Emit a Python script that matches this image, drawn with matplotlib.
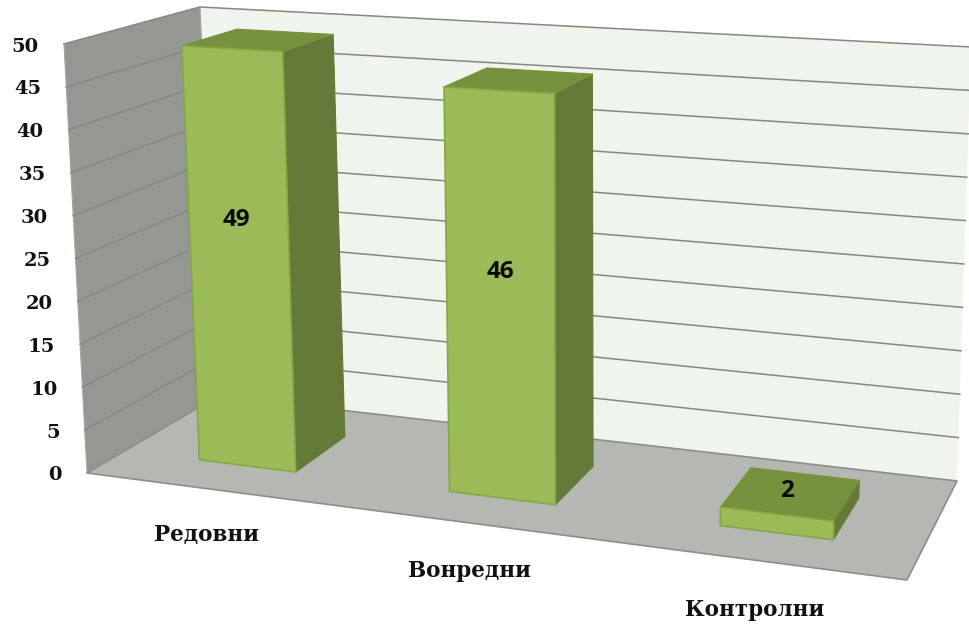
import numpy as np
import matplotlib
matplotlib.use("Agg")
import matplotlib.pyplot as plt
from matplotlib.patches import Polygon

categories = ["Редовни", "Вонредни", "Контролни"]
values = [49, 46, 2]
y_ticks = [0, 5, 10, 15, 20, 25, 30, 35, 40, 45, 50]
y_max = 50

# Perspective box of the chart, corners in pixels: (across, value, depth)
CORNERS = {
    (0, 0, 0): (87, 473), (1, 0, 0): (907, 580),
    (0, 0, 1): (218, 396), (1, 0, 1): (957, 481),
    (0, 1, 0): (64, 44), (1, 1, 0): (925, 92),
    (0, 1, 1): (200, 7), (1, 1, 1): (971, 47),
}
BAR_SPANS = [(0.093, 0.214), (0.407, 0.54), (0.747, 0.889)]
BAR_DEPTH = (0.293, 0.725)
LABEL_OFFSET = [(-4, -37), (0, -22), (-4, -3)]
CAT_LABEL_POS = [(207, 535), (470, 571), (755, 610)]


def project(u, v, w):
    p = np.zeros(2)
    for (a, b, c), xy in CORNERS.items():
        weight = (u if a else 1 - u) * (v if b else 1 - v) * (w if c else 1 - w)
        p += weight * np.array(xy, dtype=float)
    return p


def vy(val):
    return val / y_max


fig = plt.figure(figsize=(9.69, 6.26), dpi=100, facecolor="white")
ax = fig.add_axes([0, 0, 1, 1])
ax.set_xlim(0, 969)
ax.set_ylim(626, 0)
ax.axis("off")


def poly(pts, fc, ec, lw=1.0, z=1):
    ax.add_patch(Polygon(pts, closed=True, facecolor=fc, edgecolor=ec, linewidth=lw, zorder=z, joinstyle="round"))


EDGE = "#8c8e8a"
# walls and floor
poly([project(0, 0, 1), project(1, 0, 1), project(1, 1, 1), project(0, 1, 1)], "#eff4ec", "none", 0, 1)
poly([project(0, 0, 0), project(0, 0, 1), project(0, 1, 1), project(0, 1, 0)], "#959792", "#a5a7a3", 0.8, 1)
poly([project(0, 0, 0), project(1, 0, 0), project(1, 0, 1), project(0, 0, 1)], "#b5b7b2", EDGE, 1.2, 2)

# gridlines, including the top line of the back wall
for t in y_ticks[1:]:
    a, b, c = project(0, vy(t), 0), project(0, vy(t), 1), project(1, vy(t), 1)
    ax.plot([a[0], b[0], c[0]], [a[1], b[1], c[1]], color="#868884", lw=1.1, zorder=3, solid_joinstyle="miter")

# tick labels
for t in y_ticks:
    x, y = project(0, vy(t), 0)
    ax.text(x - 25, y + 2.5, str(t), ha="right", va="center", fontsize=14, fontweight="bold",
            family="DejaVu Serif", color="#111111", zorder=6)

# bars
for i, (val, (u0, u1)) in enumerate(zip(values, BAR_SPANS)):
    w0, w1 = BAR_DEPTH
    v = vy(val)
    fbl, fbr = project(u0, 0, w0), project(u1, 0, w0)
    ftl, ftr = project(u0, v, w0), project(u1, v, w0)
    bbr = project(u1, 0, w1)
    btl, btr = project(u0, v, w1), project(u1, v, w1)
    poly([fbr, bbr, btr, ftr], "#647a38", "#647a38", 0.8, 4)
    poly([ftl, btl, btr, ftr], "#76923c", "#76923c", 0.8, 4)
    poly([fbl, fbr, ftr, ftl], "#9bbb59", "#86a843", 1.2, 5)
    if val > 5:
        c = (fbl + fbr + ftl + ftr) / 4
    else:
        c = (ftl + ftr + btl + btr) / 4
    ax.text(c[0] + LABEL_OFFSET[i][0], c[1] + LABEL_OFFSET[i][1], str(val), ha="center", va="center",
            fontsize=17.5, fontweight="bold", family="Open Sans", color="#0a0a0a", zorder=7)

# category labels
for name, (x, y) in zip(categories, CAT_LABEL_POS):
    ax.text(x, y, name, ha="center", va="center", fontsize=15.5, fontweight="bold",
            family="DejaVu Serif", color="#111111", zorder=6)

fig.savefig("out.png", dpi=100, facecolor="white")
